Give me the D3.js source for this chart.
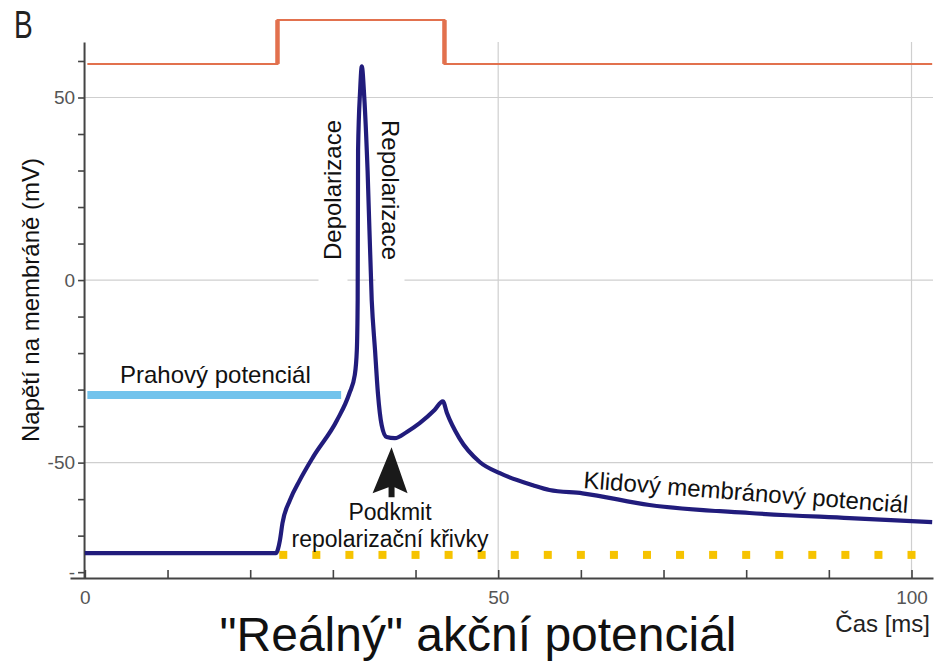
<!DOCTYPE html>
<html>
<head>
<meta charset="utf-8">
<script src="https://cdn.jsdelivr.net/npm/d3@7"></script>
<style>
  body { margin: 0; background: #fff; }
  svg { font-family: "Liberation Sans", Arial, sans-serif; }
</style>
</head>
<body>
<div id="chart"></div>
<script>
// membrane potential trace (ms, mV)
var traceTime = [0, 5, 10, 15, 20, 23.1, 23.6, 23.9, 24.8, 26.0, 27.6, 30.5, 32.0, 32.65, 32.9, 33.0, 33.05, 33.3, 33.5,
                 33.8, 34.2, 34.7, 35.1, 35.45, 35.9, 36.5, 37.5, 38.95, 40.5, 42.3, 43.3, 43.8, 45.3, 47.8, 50.2,
                 54.2, 56.2, 60.2, 68.3, 80.4, 92.5, 102.5];
var traceMv = [-74.8, -74.8, -74.8, -74.8, -74.8, -74.8, -71.2, -66.6, -60.3, -54.8, -48.5, -38.4, -31.0, -26, -19.2, -5.5, 35.6, 52, 58.5,
               50, 30, -5.5, -19.2, -31, -39.7, -43, -43.3, -41.6, -39.2, -35.6, -33.2, -36.4, -43.3, -49.9, -52.9,
               -56.2, -57.5, -58.4, -61.6, -63.8, -65.2, -66.3];

// stimulus step drawn above the trace
var stimTime = [0.3, 23.3, 23.3, 43.5, 43.5, 102.5];
var stimLevel = [59.2, 59.2, 71.2, 71.2, 59.2, 59.2];

// threshold bar and resting-level markers
var thresholdMv = -31.5;
var thresholdEnd = 31.0;
var restDots = [24, 28, 32, 36, 40, 44, 48, 52, 56, 60, 64, 68, 72, 76, 80, 84, 88, 92, 96, 100];
var restMv = -75;

var xTicks = [0, 10, 20, 30, 40, 50, 60, 70, 80, 90, 100];
var xLabels = { 0: "0", 50: "50", 100: "100" };
var yTicks = [-80, -70, -60, -50, -40, -30, -20, -10, 0, 10, 20, 30, 40, 50, 60];
var yLabels = { "-80": "-", "-50": "-50", "0": "0", "50": "50" };
var gridX = [50, 100];
var gridY = [-50, 0, 50];

var width = 936, height = 663;

var svg = d3.select("#chart")
    .append("svg")
    .attr("width", width)
    .attr("height", height);

var x = d3.scaleLinear().domain([-1.8, 102.6]).range([70, 933]);
var y = d3.scaleLinear().domain([-81.6, 65.2]).range([578, 42]);

// grid
svg.selectAll(".gy")
    .data(gridY)
    .enter()
    .append("line")
    .attr("x1", x(0))
    .attr("x2", x(102.6))
    .attr("y1", function(d) { return y(d); })
    .attr("y2", function(d) { return y(d); })
    .attr("stroke", "#cfcfcf")
    .attr("stroke-width", 1.2);

svg.selectAll(".gx")
    .data(gridX)
    .enter()
    .append("line")
    .attr("x1", function(d) { return x(d); })
    .attr("x2", function(d) { return x(d); })
    .attr("y1", y(65.2))
    .attr("y2", y(-81.6))
    .attr("stroke", "#cfcfcf")
    .attr("stroke-width", 1.2);

// axes
var xAxis = d3.axisBottom(x)
    .tickValues(xTicks)
    .tickSizeInner(-8)
    .tickSizeOuter(0)
    .tickPadding(13)
    .tickFormat(function(d) { return xLabels[d] || ""; });

var gx = svg.append("g")
    .attr("transform", "translate(0," + y(-81.6) + ")")
    .call(xAxis);

var yAxis = d3.axisLeft(y)
    .tickValues(yTicks)
    .tickSizeInner(6)
    .tickSizeOuter(0)
    .tickPadding(3)
    .tickFormat(function(d) { return yLabels[d] || ""; });

var gy = svg.append("g")
    .attr("transform", "translate(" + x(-0.1) + ",0)")
    .call(yAxis);

[gx, gy].forEach(function(g) {
    g.select(".domain").attr("stroke", "#444").attr("stroke-width", 2);
    g.selectAll(".tick line").attr("stroke", "#444").attr("stroke-width", 1.6);
    g.selectAll(".tick text")
        .attr("fill", "#555")
        .style("font-size", "19px")
        .style("font-family", "Liberation Sans, Arial, sans-serif");
});

// stimulus step
var stimLine = d3.line()
    .x(function(d) { return x(d[0]); })
    .y(function(d) { return y(d[1]); });

var stim = stimTime.map(function(t, i) { return [t, stimLevel[i]]; });

svg.append("path")
    .attr("d", stimLine(stim))
    .attr("fill", "none")
    .attr("stroke", "#e2714e")
    .attr("stroke-width", 2);

svg.selectAll(".stimEdge")
    .data([1, 3])
    .enter()
    .append("line")
    .attr("x1", function(i) { return x(stim[i][0]); })
    .attr("x2", function(i) { return x(stim[i + 1][0]); })
    .attr("y1", function(i) { return y(stim[i][1]); })
    .attr("y2", function(i) { return y(stim[i + 1][1]); })
    .attr("stroke", "#e2714e")
    .attr("stroke-width", 4.5);

// threshold bar
svg.append("line")
    .attr("x1", x(0.3))
    .attr("x2", x(thresholdEnd))
    .attr("y1", y(thresholdMv))
    .attr("y2", y(thresholdMv))
    .attr("stroke", "#72c3ec")
    .attr("stroke-width", 8);

svg.append("text")
    .attr("x", 120)
    .attr("y", 383)
    .style("font-size", "24px")
    .attr("fill", "#111")
    .text("Prahový potenciál");

// resting markers
svg.selectAll(".dot")
    .data(restDots)
    .enter()
    .append("rect")
    .attr("x", function(d) { return x(d) - 4; })
    .attr("y", y(restMv) - 3)
    .attr("width", 8)
    .attr("height", 8)
    .attr("fill", "#f6c300");

// labels on the spike, with white backing
function vLabel(txt, cx, cy, rot) {
    var g = svg.append("g");
    var r = g.append("rect").attr("fill", "#fff");
    var t = g.append("text")
        .attr("transform", "translate(" + cx + "," + cy + ") rotate(" + rot + ")")
        .attr("text-anchor", "middle")
        .attr("dy", "0.35em")
        .style("font-size", "24px")
        .attr("fill", "#111")
        .text(txt);
    var b = t.node().getBBox();
    r.attr("x", cx - b.height / 2 - 1)
        .attr("y", cy - b.width / 2 - 4)
        .attr("width", b.height + 2)
        .attr("height", b.width / 2 + 4 + (y(0) + 6 - cy));
}
vLabel("Depolarizace", 333, 190, -90);
vLabel("Repolarizace", 390, 190, 90);

// trace
var trace = d3.line()
    .x(function(d) { return x(d[0]); })
    .y(function(d) { return y(d[1]); })
    .curve(d3.curveMonotoneX);

svg.append("path")
    .attr("d", trace(traceTime.map(function(t, i) { return [t, traceMv[i]]; })))
    .attr("fill", "none")
    .attr("stroke", "#211c7c")
    .attr("stroke-width", 4.2)
    .attr("stroke-linejoin", "round");

// undershoot arrow
var ax = x(37.1), ay = y(-45.8);
svg.append("path")
    .attr("d", "M" + ax + "," + ay +
        " L" + (ax + 16) + "," + (ay + 46) +
        " L" + (ax + 3) + "," + (ay + 40) +
        " L" + (ax + 3) + "," + (ay + 50) +
        " L" + (ax - 3) + "," + (ay + 50) +
        " L" + (ax - 3) + "," + (ay + 40) +
        " L" + (ax - 19) + "," + (ay + 46) + " Z")
    .attr("fill", "#1a1a1a");

svg.append("text")
    .attr("x", 390)
    .attr("y", 520)
    .attr("text-anchor", "middle")
    .style("font-size", "23px")
    .attr("fill", "#111")
    .text("Podkmit");

svg.append("text")
    .attr("x", 390)
    .attr("y", 547)
    .attr("text-anchor", "middle")
    .style("font-size", "23px")
    .attr("fill", "#111")
    .text("repolarizační křivky");

svg.append("text")
    .attr("transform", "translate(583,488) rotate(4.4)")
    .style("font-size", "24px")
    .attr("fill", "#111")
    .text("Klidový membránový potenciál");

// axis titles
svg.append("text")
    .attr("transform", "translate(39,300) rotate(-90)")
    .attr("text-anchor", "middle")
    .style("font-size", "24px")
    .attr("fill", "#111")
    .text("Napětí na membráně (mV)");

svg.append("text")
    .attr("x", 930)
    .attr("y", 632)
    .attr("text-anchor", "end")
    .style("font-size", "24px")
    .attr("fill", "#222")
    .text("Čas [ms]");

svg.append("text")
    .attr("x", 478)
    .attr("y", 651)
    .attr("text-anchor", "middle")
    .style("font-size", "48px")
    .attr("fill", "#111")
    .text("\"Reálný\" akční potenciál");

svg.append("text")
    .attr("transform", "translate(14,38) scale(0.72,1)")
    .style("font-size", "39px")
    .attr("fill", "#222")
    .text("B");
</script>
</body>
</html>
